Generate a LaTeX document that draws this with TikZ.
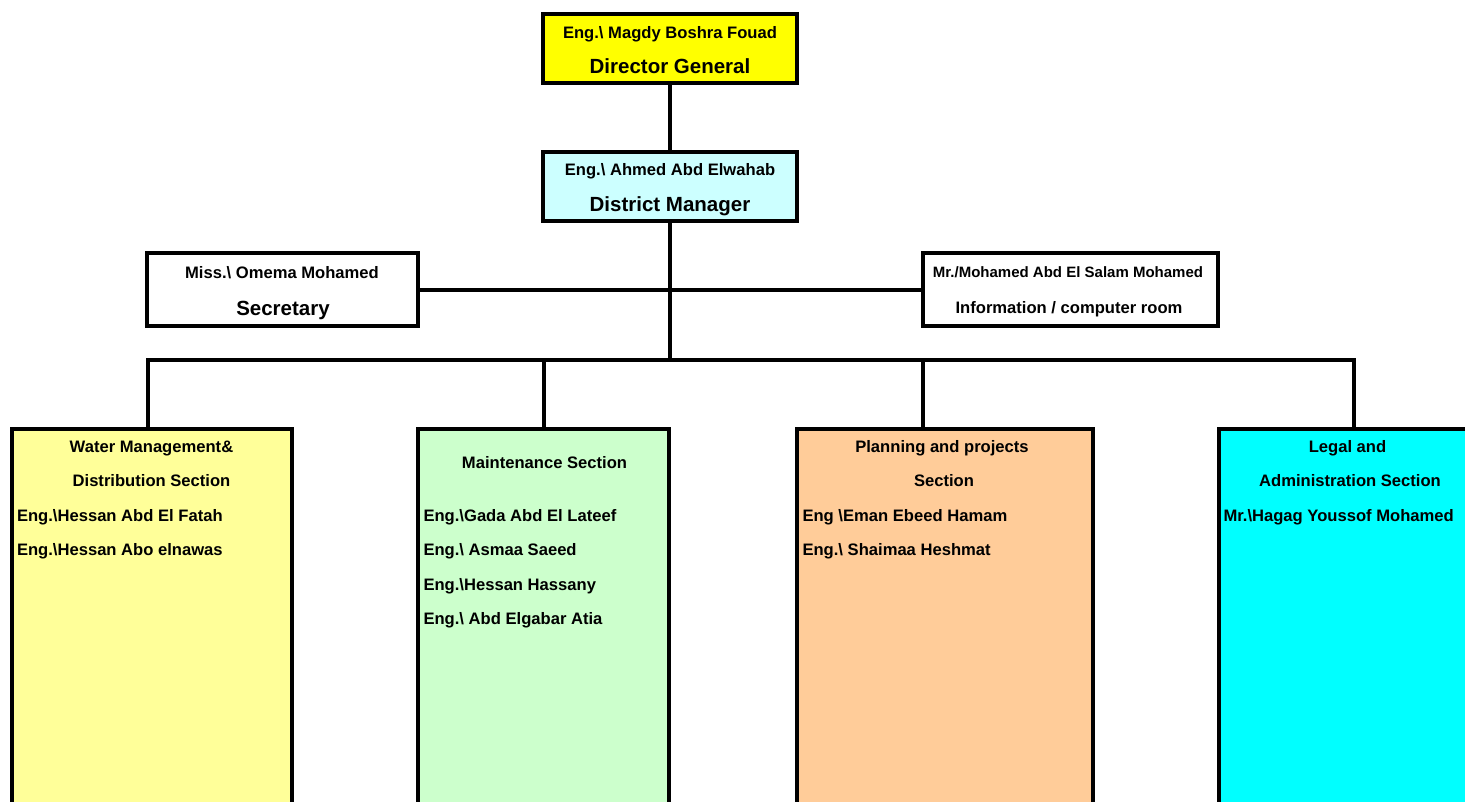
\documentclass[tikz,border=0pt]{standalone}
\usepackage{fontspec}
\setmainfont{Liberation Sans}
\usetikzlibrary{positioning}

\definecolor{dgyellow}{HTML}{FFFF00}
\definecolor{dmcyan}{HTML}{CCFFFF}
\definecolor{wateryellow}{HTML}{FFFF99}
\definecolor{maintgreen}{HTML}{CCFFCC}
\definecolor{planorange}{HTML}{FFCC99}
\definecolor{legalcyan}{HTML}{00FFFF}

\begin{document}
\begin{tikzpicture} [x = 1pt, y = -1pt, line width = 4pt,
  box/.style = {draw, rectangle, inner sep = 0pt, outer sep = 0pt},
  sect/.style = {box, anchor = north west, minimum height = 420},
  namet/.style = {font = \bfseries\fontsize{16.6}{20}\selectfont, anchor = base, inner sep = 0pt},
  smallt/.style = {namet, font = \bfseries\fontsize{15}{18}\selectfont},
  titlet/.style = {font = \bfseries\fontsize{20.5}{24}\selectfont, anchor = base, inner sep = 0pt},
  staff/.style = {namet, anchor = base west}]
\useasboundingbox (0, 0) rectangle (1465, 801);
\clip (0, 0) rectangle (1465, 801);
% top boxes
\node[box, fill = dgyellow, minimum width = 254, minimum height = 69] (dg) at (670, 48.5){};
\node[box, fill = dmcyan, minimum width = 254, minimum height = 69] (dm) at (670, 186.5){};
\node[box, fill = white, minimum width = 271, minimum height = 73] (sec) at (282.5, 289.5){};
\node[box, fill = white, minimum width = 295, minimum height = 73] (info) at (1070.5, 289.5){};
% sections
\node[sect, fill = wateryellow, minimum width = 280] (water) at (12, 429){};
\node[sect, fill = maintgreen, minimum width = 251] (maint) at (418, 429){};
\node[sect, fill = planorange, minimum width = 296] (plan) at (797, 429){};
\node[sect, fill = legalcyan, minimum width = 262] (legal) at (1219, 429){};
% connectors
\coordinate (busL) at (148, 360);
\coordinate (busM) at (670, 360);
\coordinate (busR) at (1354, 360);
\coordinate (dropB) at (544, 360);
\coordinate (dropC) at (923, 360);
\draw (dg.south) -- (dm.north);
\draw (dm.south) -- (busM);
\draw (sec.east) -- (info.west);
\draw (busL |- water.north) -- (busL) -- (busR) -- (busR |- legal.north);
\draw (dropB) -- (dropB |- maint.north);
\draw (dropC) -- (dropC |- plan.north);
% texts of the top boxes
\node[namet] (dgname) at (670, 38){Eng.\textbackslash{} Magdy Boshra Fouad};
\node[titlet] (dgtitle) at (670, 73){Director General};
\node[namet] (dmname) at (670, 175){Eng.\textbackslash{} Ahmed Abd Elwahab};
\node[titlet] (dmtitle) at (670, 211){District Manager};
\node[namet] (secname) at (282, 278){Miss.\textbackslash{} Omema Mohamed};
\node[titlet] (sectitle) at (283, 315){Secretary};
\node[smallt] (infoname) at (1068, 277){Mr./Mohamed Abd El Salam Mohamed};
\node[namet] (infotitle) at (1069, 313){Information / computer room};
% texts of the sections
\node[namet] (watera) at (151.5, 452){Water Management\&};
\node[namet] (waterb) at (151.5, 486.5){Distribution Section};
\node[staff] (watern1) at (15, 521){Eng.\textbackslash Hessan Abd El Fatah};
\node[staff] (watern2) at (15, 555.5){Eng.\textbackslash Hessan Abo elnawas};
\node[namet] (mainta) at (544.5, 468){Maintenance Section};
\node[staff] (maintn1) at (421.5, 521){Eng.\textbackslash Gada Abd El Lateef};
\node[staff] (maintn2) at (421.5, 555.5){Eng.\textbackslash{} Asmaa Saeed};
\node[staff] (maintn3) at (421.5, 590){Eng.\textbackslash Hessan Hassany};
\node[staff] (maintn4) at (421.5, 624.5){Eng.\textbackslash{} Abd Elgabar Atia};
\node[namet] (plana) at (942, 452){Planning and projects};
\node[namet] (planb) at (944, 486.5){Section};
\node[staff] (plann1) at (800.5, 521){Eng \textbackslash Eman Ebeed Hamam};
\node[staff] (plann2) at (800.5, 555.5){Eng.\textbackslash{} Shaimaa Heshmat};
\node[namet] (legala) at (1347.5, 452){Legal and};
\node[namet] (legalb) at (1350, 486.5){Administration Section};
\node[staff] (legaln1) at (1221.5, 521){Mr.\textbackslash Hagag Youssof Mohamed};
\end{tikzpicture}
\end{document}
